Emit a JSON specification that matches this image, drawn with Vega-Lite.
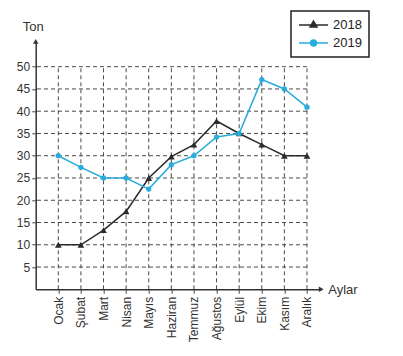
{
  "$schema": "https://vega.github.io/schema/vega-lite/v6.json",
  "width": 285.5,
  "height": 248,
  "autosize": {"type": "none"},
  "padding": {"left": 35.7, "top": 41.3, "right": 81.8, "bottom": 66.7},
  "background": "white",
  "config": {
    "view": {"stroke": null},
    "font": "Liberation Sans",
    "axis": {"labelFont": "Liberation Sans", "titleFont": "Liberation Sans", "labelColor": "#333", "titleColor": "#333", "titleFontWeight": "normal"},
    "axisY": {"labelOverlap": false, "labelFlush": false, "labelBound": false, "tickCount": 20}
  },
  "datasets": {
    "veri": [
      {"ay": "Ocak", "yil": "2018", "ton": 10},
      {"ay": "Şubat", "yil": "2018", "ton": 10},
      {"ay": "Mart", "yil": "2018", "ton": 13.3},
      {"ay": "Nisan", "yil": "2018", "ton": 17.5},
      {"ay": "Mayıs", "yil": "2018", "ton": 25},
      {"ay": "Haziran", "yil": "2018", "ton": 29.8},
      {"ay": "Temmuz", "yil": "2018", "ton": 32.5},
      {"ay": "Ağustos", "yil": "2018", "ton": 37.8},
      {"ay": "Eylül", "yil": "2018", "ton": 35},
      {"ay": "Ekim", "yil": "2018", "ton": 32.5},
      {"ay": "Kasım", "yil": "2018", "ton": 30},
      {"ay": "Aralık", "yil": "2018", "ton": 30},
      {"ay": "Ocak", "yil": "2019", "ton": 30},
      {"ay": "Şubat", "yil": "2019", "ton": 27.4},
      {"ay": "Mart", "yil": "2019", "ton": 25},
      {"ay": "Nisan", "yil": "2019", "ton": 25},
      {"ay": "Mayıs", "yil": "2019", "ton": 22.5},
      {"ay": "Haziran", "yil": "2019", "ton": 28},
      {"ay": "Temmuz", "yil": "2019", "ton": 30},
      {"ay": "Ağustos", "yil": "2019", "ton": 34.2},
      {"ay": "Eylül", "yil": "2019", "ton": 35},
      {"ay": "Ekim", "yil": "2019", "ton": 47.1},
      {"ay": "Kasım", "yil": "2019", "ton": 45},
      {"ay": "Aralık", "yil": "2019", "ton": 40.9}
    ],
    "izgara": [
      {"v": 5}, {"v": 10}, {"v": 15}, {"v": 20}, {"v": 25},
      {"v": 30}, {"v": 35}, {"v": 40}, {"v": 45}, {"v": 50}
    ],
    "bos": [{}]
  },
  "layer": [
    {
      "data": {"name": "veri"},
      "transform": [{"filter": "datum.yil == '2018'"}],
      "mark": {"type": "rule", "color": "#4a4a4a", "strokeWidth": 1, "strokeDash": [4, 3]},
      "encoding": {
        "x": {
          "field": "ay", "type": "ordinal",
          "scale": {"type": "point", "padding": 0.814, "align": 0.614,
            "domain": ["Ocak", "Şubat", "Mart", "Nisan", "Mayıs", "Haziran", "Temmuz", "Ağustos", "Eylül", "Ekim", "Kasım", "Aralık"]},
          "axis": {
            "title": "Aylar", "titleX": 292, "titleY": 0, "titleAlign": "left", "titleBaseline": "middle", "titleAnchor": null, "titleFontSize": 13,
            "labelAngle": -90, "labelAlign": "right", "labelBaseline": "middle", "labelFontSize": 12, "labelPadding": 3,
            "tickSize": 4, "tickColor": "#4a4a4a", "domainColor": "#333", "domainWidth": 1.5, "grid": false
          }
        },
        "y": {"datum": 0, "type": "quantitative",
          "scale": {"domain": [0, 55.7], "nice": false, "zero": true},
          "axis": {
            "title": "Ton", "titleAngle": 0, "titleX": -3, "titleY": -11, "titleAlign": "center", "titleBaseline": "alphabetic", "titleAnchor": null, "titleFontSize": 13,
            "values": [5, 10, 15, 20, 25, 30, 35, 40, 45, 50], "tickCount": 20, "labelFontSize": 12, "labelPadding": 2,
            "labelOverlap": false, "labelFlush": false, "labelBound": false,
            "tickSize": 4, "tickColor": "#4a4a4a", "domainColor": "#333", "domainWidth": 1.5, "grid": false
          }
        },
        "y2": {"datum": 50}
      }
    },
    {
      "data": {"name": "izgara"},
      "mark": {"type": "rule", "color": "#4a4a4a", "strokeWidth": 1, "strokeDash": [4, 3]},
      "encoding": {
        "y": {"field": "v", "type": "quantitative"},
        "x": {"datum": "Aralık", "type": "ordinal"},
        "x2": {"value": 0}
      }
    },
    {
      "data": {"name": "veri"},
      "mark": {"type": "line", "strokeWidth": 1.5},
      "encoding": {
        "x": {"field": "ay", "type": "ordinal"},
        "y": {"field": "ton", "type": "quantitative"},
        "color": {
          "field": "yil", "type": "nominal",
          "scale": {"domain": ["2018", "2019"], "range": ["#2b2b2b", "#27acdc"]},
          "legend": {
            "title": null, "orient": "none", "legendX": 255.3, "legendY": -30.3,
            "strokeColor": "#222", "padding": 7, "symbolSize": 144, "symbolStrokeWidth": 1.5,
            "labelFontSize": 13, "labelColor": "#222", "labelOffset": 21, "rowPadding": 4,
            "labelFont": "Liberation Sans",
            "encode": {
              "legend": {"update": {"strokeWidth": {"value": 1.5}}},
              "symbols": {"update": {
                "shape": {"signal": "datum.value == '2018' ? 'M-1,0H3.84M1.42,-0.65L2,0.35L0.84,0.35Z' : 'M-1,0H3.84M1.92,0A0.5,0.5,0,1,1,0.92,0A0.5,0.5,0,1,1,1.92,0Z'"},
                "fill": {"signal": "datum.value == '2018' ? '#2b2b2b' : '#27acdc'"},
                "stroke": {"signal": "datum.value == '2018' ? '#2b2b2b' : '#27acdc'"},
                "strokeWidth": {"value": 1.5},
                "opacity": {"value": 1}
              }}
            }
          }
        }
      }
    },
    {
      "data": {"name": "veri"},
      "transform": [{"filter": "datum.yil == '2018'"}],
      "mark": {"type": "point", "shape": "triangle-up", "filled": true, "opacity": 1, "color": "#2b2b2b", "size": 45},
      "encoding": {
        "x": {"field": "ay", "type": "ordinal"},
        "y": {"field": "ton", "type": "quantitative"}
      }
    },
    {
      "data": {"name": "veri"},
      "transform": [{"filter": "datum.yil == '2019'"}],
      "mark": {"type": "point", "shape": "circle", "filled": true, "opacity": 1, "color": "#27acdc", "size": 28},
      "encoding": {
        "x": {"field": "ay", "type": "ordinal"},
        "y": {"field": "ton", "type": "quantitative"}
      }
    },
    {
      "data": {"name": "bos"},
      "mark": {"type": "point", "shape": "triangle-up", "filled": true, "color": "#333", "size": 30, "opacity": 1},
      "encoding": {"x": {"value": 0}, "y": {"value": 0}}
    },
    {
      "data": {"name": "bos"},
      "mark": {"type": "point", "shape": "triangle-right", "filled": true, "color": "#333", "size": 30, "opacity": 1},
      "encoding": {"x": {"value": "width"}, "y": {"value": "height"}}
    }
  ]
}
